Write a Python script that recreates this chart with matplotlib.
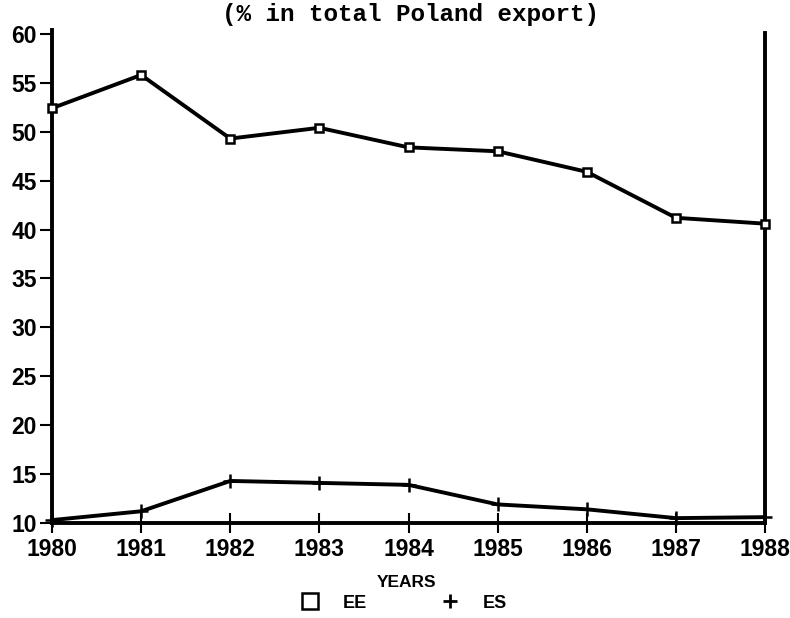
import numpy as np
import matplotlib
matplotlib.use("Agg")
import matplotlib.pyplot as plt
from matplotlib.lines import Line2D

# Data
years = [1980, 1981, 1982, 1983, 1984, 1985, 1986, 1987, 1988]
ee_share = [52.4, 55.8, 49.3, 50.4, 48.4, 48.0, 45.9, 41.2, 40.6]
es_share = [10.3, 11.2, 14.3, 14.1, 13.9, 11.9, 11.4, 10.5, 10.6]
y_ticks = [10, 15, 20, 25, 30, 35, 40, 45, 50, 55, 60]

plt.rcParams['font.family'] = ['Liberation Sans', 'DejaVu Sans']

fig = plt.figure(figsize=(7.9, 6.18), dpi=100)
ax = fig.add_axes([0.0658, 0.1537, 0.9026, 0.7978])

#Both series, thick black lines
ax.plot(years, ee_share, color="black", lw=2.8, marker="s", ms=6,
        mfc="white", mec="black", mew=1.8, clip_on=False, zorder=3)
ax.plot(years, es_share, color="black", lw=2.8, marker="+", ms=10,
        mew=1.8, clip_on=False, zorder=3)

ax.set_xlim(1980, 1988)
ax.set_ylim(10, 60.4)
ax.set_xticks(years)
ax.set_yticks(y_ticks)
ax.tick_params(axis="x", direction="inout", length=14, width=1.5, pad=4, labelsize=16.5)
ax.tick_params(axis="y", direction="out", length=9, width=1.5, pad=2, labelsize=16.5)
for lab in ax.get_xticklabels() + ax.get_yticklabels():
    lab.set_fontweight("bold")

#Spines: left, bottom and a right border line
ax.spines["top"].set_visible(False)
for s in ["left", "bottom", "right"]:
    ax.spines[s].set_linewidth(2.8)
ax.spines["right"].set_bounds(10, 60.1)

fig.text(0.52, 0.976, "(% in total Poland export)", ha="center", va="center",
         fontsize=17.5, fontweight="bold", family="Liberation Mono")
fig.text(0.515, 0.058, "YEARS", ha="center", va="center", fontsize=12.5, fontweight="bold")

#Legend row under the axis
handles = [Line2D([], [], ls="none", marker="s", ms=12, mfc="white", mec="black", mew=1.8),
           Line2D([], [], ls="none", marker="+", ms=10, mec="black", mew=2)]
fig.legend(handles, ["EE", "ES"], loc="center", bbox_to_anchor=(0.51, 0.024),
           ncol=2, frameon=False, prop={"weight": "bold", "size": 13},
           handletextpad=1.2, columnspacing=4.0, handlelength=1.2)

plt.savefig("out.png", dpi=100)
plt.close()
